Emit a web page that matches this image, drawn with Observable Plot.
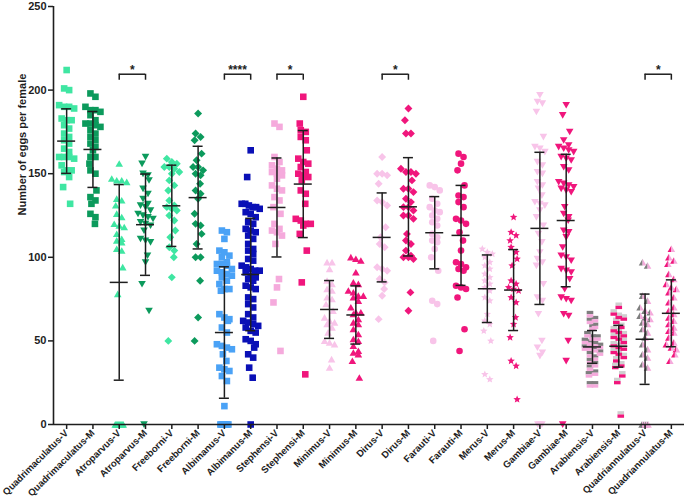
<!DOCTYPE html>
<html>
<head>
<meta charset="utf-8">
<script src="https://cdn.jsdelivr.net/npm/d3@7"></script>
<script src="https://cdn.jsdelivr.net/npm/@observablehq/plot@0.6"></script>
<style>
  html, body { margin: 0; padding: 0; background: #fff; }
</style>
</head>
<body>
<div id="chart"></div>
<script>
// ---------- DATA ----------
const categories = [
  "Quadrimaculatus-V", "Quadrimaculatus-M", "Atroparvus-V", "Atroparvus-M",
  "Freeborni-V", "Freeborni-M", "Albimanus-V", "Albimanus-M",
  "Stephensi-V", "Stephensi-M", "Minimus-V", "Minimus-M",
  "Dirus-V", "Dirus-M", "Farauti-V", "Farauti-M",
  "Merus-V", "Merus-M", "Gambiae-V", "Gambiae-M",
  "Arabiensis-V", "Arabiensis-M", "Quadriannulatus-V", "Quadriannulatus-M"
];

const quadrimaculatusV = [212, 201, 200, 191, 190, 190, 189, 183, 182, 182, 179, 177, 174, 172, 170, 168, 165, 163, 160, 160, 160, 159, 155, 152, 152, 151, 148, 142, 132];
const quadrimaculatusM = [198, 196, 190, 188, 188, 187, 185, 182, 180, 180, 179, 178, 176, 174, 172, 170, 168, 166, 164, 160, 160, 156, 152, 150, 140, 136, 134, 132, 126, 124, 120];
const atroparvusV = [156, 147, 146, 146, 145, 135, 134, 131, 126, 124, 120, 119, 118, 114, 111, 110, 109, 105, 104, 94, 78, 0, 0, 0, 0, 0, 0, 0, 0, 0];
const atroparvusM = [160, 156, 150, 149, 146, 141, 138, 135, 132, 131, 130, 128, 126, 125, 124, 123, 121, 120, 119, 116, 111, 110, 109, 101, 97, 84, 68, 0];
const freeborniV = [159, 157, 156, 154, 154, 153, 151, 150, 146, 143, 140, 134, 131, 130, 129, 128, 125, 122, 116, 112, 106, 104, 100, 88, 50];
const freeborniM = [186, 174, 172, 170, 162, 158, 154, 154, 152, 150, 149, 144, 140, 138, 135, 126, 120, 119, 114, 108, 100, 100, 86, 64, 50];
const albimanusV = [116, 115, 111, 104, 103, 101, 100, 97, 96, 96, 95, 93, 92, 91, 90, 89, 88, 86, 84, 81, 81, 80, 66, 64, 63, 62, 58, 55, 48, 47, 46, 45, 42, 38, 34, 33, 32, 29, 26, 11, 0, 0, 0, 0, 0, 0, 0, 0];
const albimanusM = [164, 148, 132, 132, 131, 130, 130, 129, 127, 126, 124, 121, 120, 117, 116, 115, 113, 111, 108, 105, 104, 102, 99, 98, 95, 94, 93, 92, 92, 91, 89, 88, 87, 86, 83, 82, 81, 76, 75, 72, 70, 66, 64, 62, 61, 60, 59, 58, 56, 55, 51, 50, 48, 46, 42, 40, 34, 28, 0];
const stephensiV = [180, 178, 160, 157, 155, 153, 152, 151, 150, 149, 147, 143, 141, 140, 136, 134, 130, 126, 120, 117, 116, 115, 113, 108, 87, 82, 73, 44];
const stephensiM = [196, 180, 176, 175, 172, 170, 164, 159, 157, 156, 154, 151, 150, 149, 148, 146, 140, 138, 132, 123, 122, 120, 120, 119, 114, 104, 85, 30];
const minimusV = [97, 97, 93, 86, 84, 81, 80, 76, 75, 72, 68, 64, 62, 61, 60, 58, 55, 50, 49, 48, 39, 34];
const minimusM = [100, 99, 98, 91, 85, 84, 80, 79, 77, 77, 76, 74, 70, 67, 67, 66, 63, 61, 60, 57, 54, 51, 50, 47, 44, 43, 42, 38, 28];
const dirusV = [160, 150, 150, 149, 144, 134, 133, 131, 118, 112, 108, 106, 94, 93, 92, 87, 85, 81, 77, 63];
const dirusM = [189, 182, 174, 174, 153, 151, 151, 150, 146, 141, 141, 139, 135, 133, 130, 130, 128, 125, 125, 123, 114, 110, 108, 104, 101, 100, 100, 99, 79, 68];
const farautiV = [143, 142, 140, 135, 132, 130, 128, 127, 125, 123, 121, 119, 114, 112, 110, 109, 105, 100, 92, 74, 72, 50];
const farautiM = [162, 160, 156, 152, 143, 137, 136, 133, 130, 123, 122, 120, 115, 110, 104, 97, 96, 94, 93, 92, 83, 82, 81, 76, 57, 44];
const merusV = [105, 103, 102, 100, 97, 95, 93, 90, 88, 86, 84, 82, 80, 76, 74, 66, 62, 60, 56, 50, 30, 27];
const merusM = [124, 115, 113, 110, 106, 103, 99, 95, 86, 84, 82, 81, 80, 76, 73, 64, 60, 52, 38, 35, 15];
const gambiaeV = [197, 193, 192, 187, 172, 166, 165, 163, 157, 155, 151, 150, 145, 143, 141, 137, 133, 132, 131, 128, 124, 119, 114, 109, 103, 99, 97, 95, 84, 76, 74, 66, 50, 46, 43, 41, 0, 0, 0];
const gambiaeM = [191, 185, 175, 170, 167, 166, 165, 164, 163, 160, 159, 158, 154, 152, 145, 144, 143, 142, 141, 140, 139, 130, 126, 124, 122, 116, 115, 112, 106, 101, 100, 98, 93, 92, 91, 87, 81, 76, 75, 74, 66, 65, 50, 38, 0];
const arabiensisV = [66, 63, 62, 59, 58, 54, 52, 52, 50, 49, 48, 47, 46, 46, 45, 43, 42, 40, 38, 36, 34, 31, 30, 24, 24];
const arabiensisM = [71, 67, 65, 64, 62, 59, 57, 56, 54, 53, 52, 50, 48, 47, 46, 44, 43, 41, 39, 36, 35, 30, 26, 6];
const quadriannulatusV = [97, 95, 77, 74, 70, 68, 67, 65, 64, 63, 61, 60, 57, 55, 52, 48, 45, 42, 40, 36, 34, 0, 0, 0, 0];
const quadriannulatusM = [105, 100, 98, 96, 90, 87, 84, 82, 81, 79, 76, 73, 70, 68, 66, 64, 62, 60, 58, 56, 55, 52, 49, 48, 46, 45, 42, 38];

// mean and standard deviation per category, as drawn
const means = [169.5, 164.5, 85, 119.5, 130.8, 135.7, 55, 89.7, 129.8, 143.8, 68.8, 65.5, 111.9, 130.2, 114.7, 113.1, 81.2, 80.4, 117.3, 122, 46.4, 46.8, 51, 66.5];
const sds   = [19.3, 22.7, 58.5, 30.3, 24.3, 30.7, 39.3, 33.6, 29.6, 32, 17.3, 17.4, 26.6, 29.4, 21.6, 29.9, 20.2, 24.2, 45.5, 39.6, 9.8, 12.5, 27, 20];

// significance brackets (category index pairs) and their labels
const sigPairs  = [[2, 3], [6, 7], [8, 9], [12, 13], [22, 23]];
const sigLabels = ["*", "****", "*", "*", "*"];

const yTicks = [0, 50, 100, 150, 200, 250];
const yLabel = "Number of eggs per female";

const groups = [
  quadrimaculatusV, quadrimaculatusM, atroparvusV, atroparvusM,
  freeborniV, freeborniM, albimanusV, albimanusM,
  stephensiV, stephensiM, minimusV, minimusM,
  dirusV, dirusM, farautiV, farautiM,
  merusV, merusM, gambiaeV, gambiaeM,
  arabiensisV, arabiensisM, quadriannulatusV, quadriannulatusM
];

// ---------- STYLES ----------
const W = 685, H = 502, ML = 53, MR = 1, MT = 6, MB = 78;
const pxPerUnit = (W - ML - MR) / categories.length;

const mint = "#3fe6a2", dgreen = "#0c9a5c", lblue = "#4aa2f6", dblue = "#0a10b6",
      spink = "#f5aadc", hpink = "#f0167c", vlpink = "#f8c4e9", gray = "#7e7e7e", lgray = "#cfcfcf";

const rOf = size => Math.sqrt(size / Math.PI);
const sym = {
  square: { draw(c, s) { const r = rOf(s); c.rect(-r, -r, 2 * r, 2 * r); } },
  triUp: { draw(c, s) { const r = rOf(s); c.moveTo(0, -r * 1.05); c.lineTo(r * 1.15, r * 0.95); c.lineTo(-r * 1.15, r * 0.95); c.closePath(); } },
  triDown: { draw(c, s) { const r = rOf(s); c.moveTo(0, r * 1.05); c.lineTo(r * 1.15, -r * 0.95); c.lineTo(-r * 1.15, -r * 0.95); c.closePath(); } },
  diamond: { draw(c, s) { const r = rOf(s) * 1.2; c.moveTo(0, -r); c.lineTo(r, 0); c.lineTo(0, r); c.lineTo(-r, 0); c.closePath(); } },
  circle: { draw(c, s) { const r = rOf(s); c.moveTo(r, 0); c.arc(0, 0, r, 0, 2 * Math.PI); } },
  star: { draw(c, s) { const R = rOf(s) * 1.2, r2 = R * 0.45;
    for (let k = 0; k < 10; k++) { const a = -Math.PI / 2 + k * Math.PI / 5, rr = k % 2 ? r2 : R;
      const x = rr * Math.cos(a), y = rr * Math.sin(a); k ? c.lineTo(x, y) : c.moveTo(x, y); }
    c.closePath(); } },
  sqTop: { draw(c, s) { const r = rOf(s); c.rect(-r, -r, 2 * r, r); } },
  sqBottom: { draw(c, s) { const r = rOf(s); c.rect(-r, 0, 2 * r, r); } },
  triLeft: { draw(c, s) { const r = rOf(s); c.moveTo(0, -r * 1.05); c.lineTo(0, r * 0.95); c.lineTo(-r * 1.15, r * 0.95); c.closePath(); } },
  triRight: { draw(c, s) { const r = rOf(s); c.moveTo(0, -r * 1.05); c.lineTo(0, r * 0.95); c.lineTo(r * 1.15, r * 0.95); c.closePath(); } }
};

// each entry: list of [symbol, fill] layers
const styles = [
  [[sym.square, mint]], [[sym.square, dgreen]],
  [[sym.triUp, mint]], [[sym.triDown, dgreen]],
  [[sym.diamond, mint]], [[sym.diamond, dgreen]],
  [[sym.square, lblue]], [[sym.square, dblue]],
  [[sym.square, spink]], [[sym.square, hpink]],
  [[sym.triUp, vlpink]], [[sym.triUp, hpink]],
  [[sym.diamond, vlpink]], [[sym.diamond, hpink]],
  [[sym.circle, vlpink]], [[sym.circle, hpink]],
  [[sym.star, vlpink]], [[sym.star, hpink]],
  [[sym.triDown, vlpink]], [[sym.triDown, hpink]],
  [[sym.sqTop, gray], [sym.sqBottom, spink]], [[sym.sqTop, lgray], [sym.sqBottom, hpink]],
  [[sym.triLeft, gray], [sym.triRight, spink]], [[sym.triLeft, hpink], [sym.triRight, spink]]
];

// deterministic horizontal scatter: points with close values are spread side by side
function scatter(values, idx) {
  const sorted = values.slice().sort((a, b) => b - a);
  const out = [];
  let i = 0, single = 0;
  const singles = [0, -3.5, 3.5, -1.5, 2];
  while (i < sorted.length) {
    let j = i;
    while (j + 1 < sorted.length && sorted[i] - sorted[j + 1] < 3.2) j++;
    const n = j - i + 1;
    const isZero = sorted[i] === 0;
    const step = n === 1 ? 0 : Math.min(isZero ? 2 : 5, (isZero ? 8 : 18) / (n - 1));
    for (let k = 0; k < n; k++) {
      let off = (k - (n - 1) / 2) * step;
      if (n === 1) off = singles[single++ % singles.length];
      out.push({ x: idx + off / pxPerUnit, y: sorted[i + k] });
    }
    i = j + 1;
  }
  return out;
}

const idx = d3.range(categories.length);
const ink = "#1e1e1e";

const dotMarks = [];
groups.forEach((vals, i) => {
  const pts = scatter(vals, i);
  for (const [symbol, fill] of styles[i]) {
    dotMarks.push(Plot.dot(pts, { x: "x", y: "y", symbol, r: 3.3, fill, stroke: "none" }));
  }
});

const capHalf = 5 / pxPerUnit, meanHalf = 9 / pxPerUnit;
const bracketY = 209.5, legDrop = 3.6;

const chart = Plot.plot({
  width: W, height: H,
  marginLeft: ML, marginRight: MR, marginTop: MT, marginBottom: MB,
  x: { domain: [-0.5, categories.length - 0.5], axis: null },
  y: { domain: [0, 250], axis: null },
  style: { fontFamily: "Arial, 'Liberation Sans', sans-serif", fontWeight: "bold", background: "#fff", color: ink, overflow: "visible" },
  marks: [
    ...dotMarks,
    // axis lines
    Plot.ruleX([-0.5], { stroke: ink, strokeWidth: 1.6 }),
    Plot.ruleY([0], { stroke: ink, strokeWidth: 1.6 }),
    // error bars
    Plot.ruleX(idx, { x: i => i, y1: i => means[i] - sds[i], y2: i => means[i] + sds[i], stroke: ink, strokeWidth: 1.5 }),
    Plot.ruleY(idx, { y: i => means[i] + sds[i], x1: i => i - capHalf, x2: i => i + capHalf, stroke: ink, strokeWidth: 1.5 }),
    Plot.ruleY(idx, { y: i => means[i] - sds[i], x1: i => i - capHalf, x2: i => i + capHalf, stroke: ink, strokeWidth: 1.5 }),
    Plot.ruleY(idx, { y: i => means[i], x1: i => i - meanHalf, x2: i => i + meanHalf, stroke: ink, strokeWidth: 1.5 }),
    // significance brackets
    Plot.ruleY(sigPairs, { y: bracketY, x1: p => p[0], x2: p => p[1], stroke: ink, strokeWidth: 1.5 }),
    Plot.ruleX(sigPairs.flat(), { x: d => d, y1: bracketY - legDrop, y2: bracketY, stroke: ink, strokeWidth: 1.5 }),
    Plot.text(sigPairs, { x: p => (p[0] + p[1]) / 2, y: bracketY, text: (p, i) => sigLabels[i], fontSize: 12, dy: -4, fill: ink }),
    // axes
    Plot.axisY({ ticks: yTicks, tickSize: 5, tickPadding: 2, fontSize: 11, label: null, stroke: ink, strokeWidth: 1.5 }),
    Plot.axisX({ ticks: idx, tickFormat: i => categories[i], tickRotate: -45, tickSize: 5, tickPadding: 2, fontSize: 9.6, label: null, stroke: ink, strokeWidth: 1.5 }),
    Plot.text([yLabel], { frameAnchor: "left", rotate: -90, dx: -31, fontSize: 11, fill: ink })
  ]
});

document.getElementById("chart").appendChild(chart);
</script>
</body>
</html>
